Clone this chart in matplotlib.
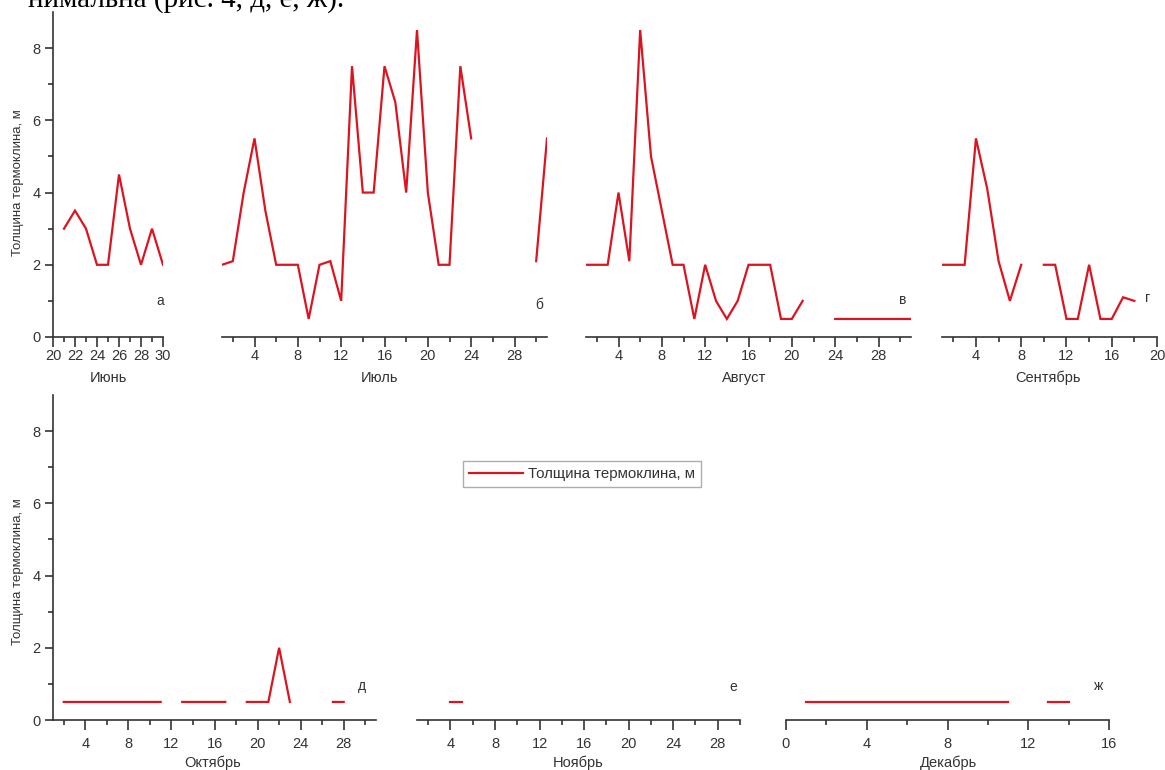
import numpy as np
import matplotlib
matplotlib.use("Agg")
import matplotlib.pyplot as plt
from matplotlib.ticker import FixedLocator

plt.rcParams['font.family'] = ['Liberation Sans', 'DejaVu Sans']

nan = np.nan

# ---- data ----
june_days = [21, 22, 23, 24, 25, 26, 27, 28, 29, 30]
june_vals = [3.0, 3.5, 3.0, 2.0, 2.0, 4.5, 3.0, 2.0, 3.0, 2.0]

july_days = list(range(1, 32))
july_vals = [2.0, 2.1, 4.0, 5.5, 3.5, 2.0, 2.0, 2.0, 0.5, 2.0, 2.1, 1.0, 7.5, 4.0, 4.0,
             7.5, 6.5, 4.0, 8.5, 4.0, 2.0, 2.0, 7.5, 5.5, nan, nan, nan, nan, nan, 2.1, 5.5]

aug_days = list(range(1, 32))
aug_vals = [2.0, 2.0, 2.0, 4.0, 2.1, 8.5, 5.0, 3.5, 2.0, 2.0, 0.5, 2.0, 1.0, 0.5, 1.0,
            2.0, 2.0, 2.0, 0.5, 0.5, 1.0, nan, nan, 0.5, 0.5, 0.5, 0.5, 0.5, 0.5, 0.5, 0.5]

sep_days = list(range(1, 19))
sep_vals = [2.0, 2.0, 2.0, 5.5, 4.1, 2.1, 1.0, 2.0, nan, 2.0, 2.0, 0.5, 0.5, 2.0, 0.5,
            0.5, 1.1, 1.0]

oct_days = list(range(2, 29))
oct_vals = [0.5, 0.5, 0.5, 0.5, 0.5, 0.5, 0.5, 0.5, 0.5, 0.5, nan, 0.5, 0.5, 0.5, 0.5,
            0.5, nan, 0.5, 0.5, 0.5, 2.0, 0.5, nan, nan, nan, 0.5, 0.5]

nov_days = [4, 5]
nov_vals = [0.5, 0.5]

dec_days = list(range(1, 15))
dec_vals = [0.5, 0.5, 0.5, 0.5, 0.5, 0.5, 0.5, 0.5, 0.5, 0.5, 0.5, nan, 0.5, 0.5]

months = ["Июнь", "Июль", "Август", "Сентябрь", "Октябрь", "Ноябрь", "Декабрь"]
letters = ["а", "б", "в", "г", "д", "е", "ж"]
ylabel = "Толщина термоклина, м"
legend_label = "Толщина термоклина, м"
caption = "нимальна (рис. 4, д, е, ж)."

# ---- layout ----
W, H = 1165, 770
fig = plt.figure(figsize=(W / 100, H / 100), dpi=100)
RED = '#dc1420'
INK = '#333333'


def add_ax(x0, x1, ytop, ybot):
    return fig.add_axes([x0 / W, 1 - ybot / H, (x1 - x0) / W, (ybot - ytop) / H])


panels = [
    (june_days, june_vals, (20, 30), range(20, 31, 2), range(20, 31, 1), (53, 163, 12, 337), True),
    (july_days, july_vals, (1, 31), range(4, 29, 4), range(2, 31, 4), (222, 547, 12, 337), False),
    (aug_days, aug_vals, (1, 31), range(4, 29, 4), range(2, 31, 4), (586, 911, 12, 337), False),
    (sep_days, sep_vals, (1, 20), range(4, 21, 4), range(2, 19, 4), (942, 1157, 12, 337), False),
    (oct_days, oct_vals, (1, 31), range(4, 29, 4), range(2, 31, 4), (53, 376, 395, 720), True),
    (nov_days, nov_vals, (1, 30), range(4, 29, 4), range(2, 31, 4), (417, 740, 395, 720), False),
    (dec_days, dec_vals, (0, 16), range(0, 17, 4), range(2, 15, 4), (786, 1109, 395, 720), False),
]
letter_pos = [(160, 301), (539, 305), (903, 300), (1148, 298), (362, 686), (733, 687), (1099, 686)]
month_pos = [(108, 378), (380, 378), (744, 378), (1048, 378), (213, 763), (578, 763), (948, 763)]

for i, (d, v, xl, maj, mnr, box, showy) in enumerate(panels):
    ax = add_ax(*box)
    line, = ax.plot(d, v, color=RED, lw=1.6, solid_joinstyle='miter', label=legend_label)
    ax.set_xlim(*xl)
    ax.set_ylim(0, 9)
    ax.patch.set_alpha(0)
    for s in ['top', 'right']:
        ax.spines[s].set_visible(False)
    ax.spines['bottom'].set_color(INK)
    ax.spines['bottom'].set_linewidth(1.2)
    ax.xaxis.set_major_locator(FixedLocator(list(maj)))
    ax.xaxis.set_minor_locator(FixedLocator([m for m in mnr if m not in maj]))
    xpad = 2.0 if i < 4 else 5.5
    ax.tick_params(axis='x', which='major', direction='out', length=7, width=1.2,
                   color=INK, labelsize=10.5, labelcolor=INK, pad=xpad)
    ax.tick_params(axis='x', which='minor', direction='out', length=3.5, width=1.2, color=INK)
    if showy:
        ax.spines['left'].set_color(INK)
        ax.spines['left'].set_linewidth(1.2)
        ax.yaxis.set_major_locator(FixedLocator([0, 2, 4, 6, 8]))
        ax.yaxis.set_minor_locator(FixedLocator([1, 3, 5, 7]))
        ax.tick_params(axis='y', which='major', direction='out', length=6, width=1.2,
                       color=INK, labelsize=10.5, labelcolor=INK, pad=3)
        ax.tick_params(axis='y', which='minor', direction='out', length=3.5, width=1.2, color=INK)
    else:
        ax.spines['left'].set_visible(False)
        ax.tick_params(axis='y', which='both', left=False, labelleft=False)
    lx, ly = letter_pos[i]
    fig.text(lx / W, 1 - ly / H, letters[i], fontsize=10, color=INK, ha='center', va='center')
    mx, my = month_pos[i]
    fig.text(mx / W, 1 - my / H, months[i], fontsize=10.5, color=INK, ha='center', va='center')
    if i == 5:
        leg = ax.legend(handles=[line], loc='upper left',
                        bbox_to_anchor=((463 - box[0]) / (box[1] - box[0]),
                                        1 - (461 - box[2]) / (box[3] - box[2])),
                        fontsize=10.8, frameon=True, fancybox=False, handlelength=3.6,
                        borderpad=0.4, handletextpad=0.3, borderaxespad=0)
        leg.get_frame().set_edgecolor('#999999')
        leg.get_frame().set_linewidth(1.0)
        for t in leg.get_texts():
            t.set_color(INK)

fig.text(18 / W, 1 - 183 / H, ylabel, rotation=90, fontsize=9.5, color=INK,
         ha='center', va='center')
fig.text(18 / W, 1 - 572 / H, ylabel, rotation=90, fontsize=9.5, color=INK,
         ha='center', va='center')

# fragment of the page text, cut off at the top edge as in the source screenshot
fig.text(28 / W, 1 - 7 / H, caption, fontsize=21, family='Liberation Serif',
         color='black', ha='left', va='baseline')

fig.savefig('out.png', dpi=100)
